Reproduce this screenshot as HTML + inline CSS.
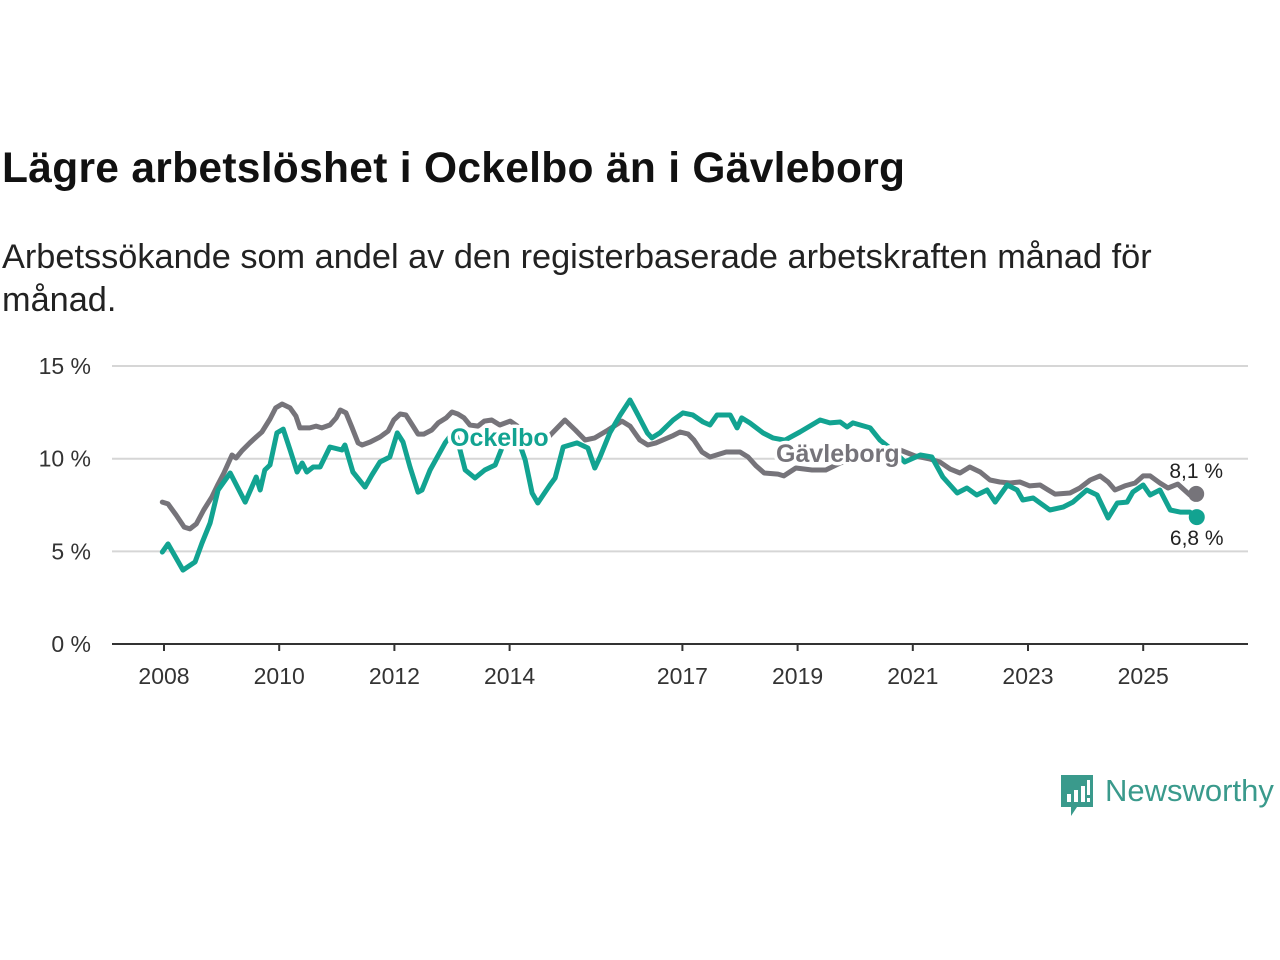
<!DOCTYPE html>
<html><head><meta charset="utf-8">
<style>
body{margin:0;width:1280px;height:960px;background:#fff;font-family:"Liberation Sans","DejaVu Sans",sans-serif;overflow:hidden;position:relative}
#title{position:absolute;left:2px;top:145px;font-size:42.5px;font-weight:bold;color:#111;margin:0;letter-spacing:0.3px;white-space:nowrap}
#sub{position:absolute;left:2px;top:236px;font-size:34.3px;color:#222;line-height:43px;width:1200px}
svg{position:absolute;left:0;top:0}
</style></head><body>
<h1 id="title">Lägre arbetslöshet i Ockelbo än i Gävleborg</h1>
<div id="sub">Arbetssökande som andel av den registerbaserade arbetskraften månad för månad.</div>
<svg id="chart" width="1280" height="960"></svg>
<div style="position:absolute;left:1059px;top:775px;height:42px">
<svg width="36" height="42" style="position:absolute;left:0;top:0"><path d="M2 0h32v32H18l-6 9v-9H2z" fill="#3a9a8c"/><rect x="8" y="19" width="4" height="8" fill="#fff"/><rect x="15" y="15" width="4" height="12" fill="#fff"/><rect x="22" y="11" width="4" height="16" fill="#fff"/><rect x="28" y="5" width="3" height="15" fill="#fff"/><rect x="28" y="23" width="3" height="4" fill="#fff"/></svg>
<span style="position:absolute;left:46px;top:-2px;font-size:31px;color:#3a9a8c;white-space:nowrap">Newsworthy</span>
</div>
<script>
const gavTimes=[2007.97,2008.07,2008.21,2008.35,2008.45,2008.56,2008.69,2008.83,2008.94,2009.04,2009.18,2009.25,2009.35,2009.49,2009.6,2009.7,2009.84,2009.94,2010.05,2010.19,2010.29,2010.36,2010.53,2010.64,2010.74,2010.88,2010.99,2011.06,2011.16,2011.26,2011.37,2011.44,2011.58,2011.75,2011.89,2011.99,2012.1,2012.2,2012.31,2012.41,2012.51,2012.65,2012.76,2012.9,2013.0,2013.1,2013.21,2013.31,2013.45,2013.56,2013.69,2013.83,2014.01,2014.18,2014.35,2014.61,2014.96,2015.14,2015.31,2015.48,2015.71,2015.95,2016.09,2016.26,2016.4,2016.54,2016.82,2016.96,2017.1,2017.2,2017.34,2017.48,2017.76,2018.0,2018.14,2018.28,2018.42,2018.66,2018.76,2018.97,2019.25,2019.49,2019.74,2020.26,2020.78,2021.04,2021.3,2021.47,2021.65,2021.82,2021.99,2022.17,2022.34,2022.51,2022.69,2022.86,2023.03,2023.21,2023.35,2023.47,2023.73,2023.9,2024.08,2024.25,2024.39,2024.51,2024.68,2024.86,2025.0,2025.12,2025.29,2025.43,2025.6,2025.81,2025.92];
const gavValues=[7.66,7.56,6.96,6.31,6.21,6.48,7.23,7.93,8.63,9.23,10.2,10.04,10.42,10.85,11.17,11.44,12.14,12.74,12.95,12.74,12.3,11.66,11.66,11.76,11.66,11.82,12.2,12.63,12.47,11.71,10.85,10.74,10.9,11.17,11.49,12.09,12.41,12.36,11.82,11.33,11.33,11.55,11.93,12.2,12.52,12.41,12.2,11.82,11.76,12.03,12.09,11.82,12.03,11.66,11.12,10.96,12.09,11.55,11.01,11.12,11.55,12.03,11.76,11.01,10.74,10.85,11.22,11.44,11.33,11.01,10.36,10.09,10.36,10.36,10.09,9.61,9.23,9.17,9.07,9.5,9.39,9.39,9.77,10.2,10.47,10.15,9.98,9.82,9.44,9.23,9.55,9.28,8.85,8.74,8.69,8.74,8.53,8.58,8.31,8.09,8.15,8.42,8.85,9.07,8.74,8.31,8.53,8.69,9.07,9.07,8.69,8.42,8.63,8.04,8.1];
const ockTimes=[2007.97,2008.07,2008.33,2008.54,2008.66,2008.8,2008.94,2009.15,2009.41,2009.6,2009.67,2009.75,2009.84,2009.96,2010.07,2010.19,2010.31,2010.4,2010.48,2010.59,2010.71,2010.88,2011.09,2011.14,2011.28,2011.49,2011.61,2011.75,2011.92,2012.05,2012.15,2012.27,2012.41,2012.48,2012.62,2012.88,2013.05,2013.23,2013.4,2013.57,2013.75,2013.92,2014.09,2014.27,2014.39,2014.49,2014.7,2014.79,2014.93,2015.17,2015.36,2015.48,2015.57,2015.74,2015.92,2016.09,2016.21,2016.39,2016.47,2016.61,2016.84,2017.01,2017.18,2017.36,2017.48,2017.6,2017.83,2017.95,2018.03,2018.17,2018.4,2018.57,2018.78,2019.04,2019.39,2019.56,2019.74,2019.86,2019.96,2020.26,2020.43,2020.69,2020.86,2021.13,2021.33,2021.52,2021.77,2021.94,2022.11,2022.29,2022.43,2022.64,2022.81,2022.91,2023.09,2023.21,2023.38,2023.61,2023.78,2024.02,2024.2,2024.39,2024.55,2024.72,2024.82,2025.0,2025.12,2025.29,2025.47,2025.64,2025.81,2025.93];
const ockValues=[4.96,5.4,3.99,4.43,5.45,6.53,8.31,9.23,7.66,9.01,8.31,9.39,9.66,11.39,11.6,10.47,9.28,9.77,9.28,9.55,9.55,10.63,10.47,10.74,9.28,8.47,9.12,9.82,10.09,11.39,10.9,9.55,8.2,8.31,9.39,10.85,11.55,9.39,8.96,9.39,9.66,11.0,11.55,9.93,8.15,7.61,8.58,8.96,10.63,10.85,10.58,9.5,10.09,11.39,12.36,13.17,12.47,11.39,11.12,11.39,12.09,12.47,12.36,11.98,11.82,12.36,12.36,11.66,12.2,11.93,11.39,11.12,11.0,11.44,12.09,11.93,11.98,11.71,11.93,11.66,11.0,10.36,9.82,10.2,10.09,9.01,8.15,8.42,8.04,8.31,7.66,8.58,8.31,7.77,7.88,7.61,7.23,7.39,7.66,8.31,8.04,6.8,7.61,7.66,8.2,8.58,8.04,8.31,7.23,7.12,7.12,6.85];
const yTicks=[0,5,10,15];
const yTickLabels=["0 %","5 %","10 %","15 %"];
const xTicks=[2008,2010,2012,2014,2017,2019,2021,2023,2025];
const xTickLabels=["2008","2010","2012","2014","2017","2019","2021","2023","2025"];
const endLabels=["8,1 %","6,8 %"];

const NS="http://www.w3.org/2000/svg";
const svg=document.getElementById('chart');
const X=t=>164+(t-2008)*57.6;
const Y=v=>644-v*18.53;
function el(tag,attrs,parent){const e=document.createElementNS(NS,tag);for(const k in attrs)e.setAttribute(k,attrs[k]);(parent||svg).appendChild(e);return e;}
yTicks.forEach((v,i)=>{
  if(v>0){const g=el('line',{x1:112,x2:1248,y1:Y(v),y2:Y(v),stroke:'#d6d6d6','stroke-width':2});
  
  }
  const t=el('text',{x:91,y:Y(v)+8,'text-anchor':'end','font-size':23,fill:'#333'});
  t.textContent=yTickLabels[i];
  
  
});
const ax=el('line',{x1:112,x2:1248,y1:644,y2:644,stroke:'#333','stroke-width':2});


xTicks.forEach((v,i)=>{
  const tk=el('line',{x1:X(v),x2:X(v),y1:644,y2:651,stroke:'#333','stroke-width':2});
  
  
  const t=el('text',{x:X(v),y:684,'text-anchor':'middle','font-size':23,fill:'#333'});
  t.textContent=xTickLabels[i];
  
  
});
function line(times,vals,color,name){
  const d=times.map((t,i)=>(i?'L':'M')+X(t).toFixed(1)+' '+Y(vals[i]).toFixed(1)).join(' ');
  const p=el('path',{d:d,fill:'none',stroke:color,'stroke-width':5,'stroke-linejoin':'round','stroke-linecap':'round'});
  
  
  const n=times.length-1;
  const c=el('circle',{cx:X(times[n]),cy:Y(vals[n]),r:8,fill:color});
  
  
}
line(gavTimes,gavValues,'#76747a','gavleborg-line');
line(ockTimes,ockValues,'#12a391','ockelbo-line');
function label(txt,x,y,color,name,bold,size){
  const t=el('text',{x:x,y:y,'font-size':size,'font-weight':bold?'bold':'normal',fill:color,stroke:'#fff','stroke-width':bold?7:0,'paint-order':'stroke','stroke-linejoin':'round'});
  t.textContent=txt;
  
  
}
label('Ockelbo',450,446,'#12a391','ockelbo-label',true,25);
label('Gävleborg',776,462,'#76747a','gavleborg-label',true,25);
const n1=gavTimes.length-1,n2=ockTimes.length-1;
const e1=el('text',{x:X(gavTimes[n1]),y:Y(gavValues[n1])-16,'text-anchor':'middle','font-size':21,fill:'#222'});
e1.textContent=endLabels[0];


const e2=el('text',{x:X(ockTimes[n2]),y:Y(ockValues[n2])+28,'text-anchor':'middle','font-size':21,fill:'#222'});
e2.textContent=endLabels[1];


</script>
</body></html>
